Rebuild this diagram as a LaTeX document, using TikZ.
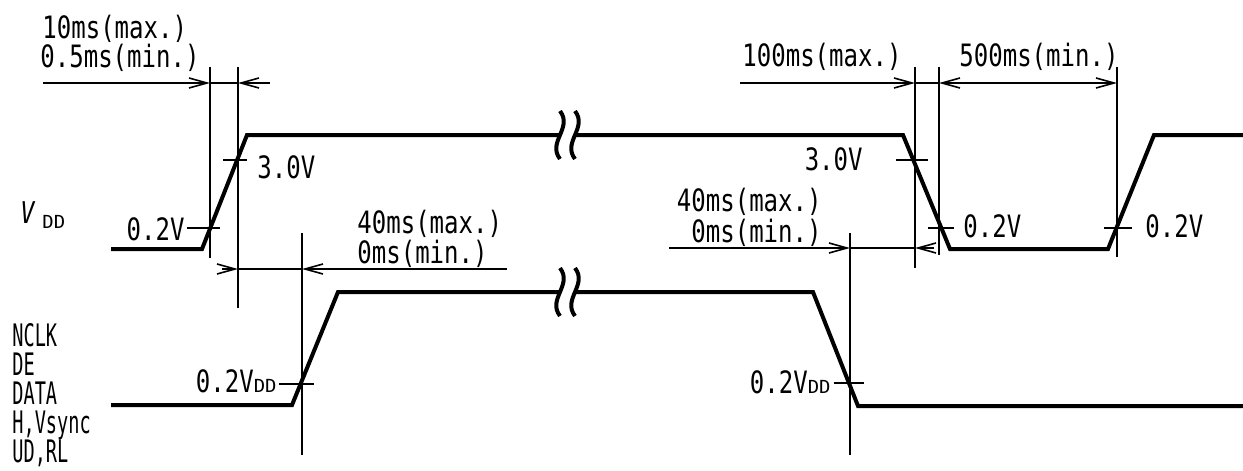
\documentclass[tikz,border=0pt]{standalone}
\usepackage{fontspec}
\usetikzlibrary{arrows.meta}
\newfontfamily\cadfont[FakeStretch=0.78]{DejaVu Sans Mono}
\newfontfamily\sigfont[FakeStretch=0.6]{DejaVu Sans Mono}
\newfontfamily\ddfont[FakeStretch=1.05]{DejaVu Sans Mono}
\tikzset{
  wave/.style={line width=2pt},
  dim/.style={line width=0.8pt},
  dimarrow/.style={dim,-{Straight Barb[length=9pt,width=5pt]}},
  dimboth/.style={dim,{Straight Barb[length=9pt,width=5pt]}-{Straight Barb[length=9pt,width=5pt]}},
  lbl/.style={inner sep=0pt,font=\cadfont\fontsize{15.4}{16}\selectfont},
  siglbl/.style={inner sep=0pt,anchor=base west,text height=11pt,text depth=0pt,
    font=\sigfont\fontsize{15.5}{14}\selectfont},
  brk/.pic={\draw[wave] (0,-24) .. controls (13,-7) and (-13,7) .. (0,24);}
}
\newcommand\dd{{\ddfont\fontsize{9}{9}\selectfont DD}}
\begin{document}
\begin{tikzpicture}[x=0.5pt,y=-0.5pt]
  \useasboundingbox (0,0) rectangle (1243,471);

  % V_DD waveform
  \coordinate (a1)  at (111,249);
  \coordinate (a2)  at (202,249);
  \coordinate (a3)  at (247,135);
  \coordinate (a4)  at (560,135);
  \coordinate (a5)  at (575,135);
  \coordinate (a6)  at (903,135);
  \coordinate (a7)  at (950,249);
  \coordinate (a8)  at (1108,249);
  \coordinate (a9)  at (1154,135);
  \coordinate (a10) at (1243,135);
  \draw[wave] (a1) -- (a2) -- (a3) -- (a4);
  \draw[wave] (a5) -- (a6) -- (a7) -- (a8) -- (a9) -- (a10);
  \pic at (a4) {brk};
  \pic at (a5) {brk};

  % NCLK ... waveform
  \coordinate (b1) at (111,405);
  \coordinate (b2) at (292,405);
  \coordinate (b3) at (338,292);
  \coordinate (b4) at (560,292);
  \coordinate (b5) at (575,292);
  \coordinate (b6) at (813,292);
  \coordinate (b7) at (858,406);
  \coordinate (b8) at (1243,406);
  \draw[wave] (b1) -- (b2) -- (b3) -- (b4);
  \draw[wave] (b5) -- (b6) -- (b7) -- (b8);
  \pic at (b4) {brk};
  \pic at (b5) {brk};

  % guide lines
  \foreach \n/\x/\ya/\yb in {1/210/67/258, 2/238/67/308, 3/302/233/455,
      4/850/233/455, 5/915/67/268, 6/939/67/255, 7/1117/67/257} {
    \coordinate (g\n t) at (\x,\ya);
    \coordinate (g\n b) at (\x,\yb);
    \draw[dim] (g\n t) -- (g\n b);
  }

  % level ticks
  \foreach \n/\xa/\xb/\y in {1/187/220/228, 2/223/247/160, 3/279/314/384,
      4/896/928/160, 5/928/954/228, 6/1104/1132/228, 7/834/864/383} {
    \coordinate (k\n l) at (\xa,\y);
    \coordinate (k\n r) at (\xb,\y);
    \draw[dim] (k\n l) -- (k\n r);
  }

  % dimension lines
  \coordinate (p1) at (43,83);
  \coordinate (p2) at (270,83);
  \draw[dimarrow] (p1) -- (g1t |- p1);
  \draw[dim] (g1t |- p1) -- (g2t |- p1);
  \draw[dimarrow] (p2) -- (g2t |- p2);

  \coordinate (p3) at (222,269);
  \coordinate (p4) at (507,269);
  \draw[dimarrow] (p3) -- (g2t |- p3);
  \draw[dim] (g2t |- p3) -- (g3t |- p3);
  \draw[dimarrow] (p4) -- (g3t |- p4);

  \coordinate (p5) at (740,83);
  \draw[dimarrow] (p5) -- (g5t |- p5);
  \draw[dim] (g5t |- p5) -- (g6t |- p5);
  \draw[dimboth] (g6t |- p5) -- (g7t |- p5);

  \coordinate (p6) at (669,248);
  \coordinate (p7) at (934,248);
  \draw[dimarrow] (p6) -- (g4t |- p6);
  \draw[dim] (g4t |- p6) -- (g5t |- p6);
  \draw[dimarrow] (p7) -- (g5t |- p7);

  % timing labels
  \node[lbl,anchor=base west] (t1) at (42,39)  {10ms(max.)};
  \node[lbl,anchor=base west] (t2) at (40,68)  {0.5ms(min.)};
  \node[lbl,anchor=base west] (t3) at (357,233) {40ms(max.)};
  \node[lbl,anchor=base west] (t4) at (357,263) {0ms(min.)};
  \node[lbl,anchor=base west] (t5) at (742,66)  {100ms(max.)};
  \node[lbl,anchor=base west] (t6) at (959,66)  {500ms(min.)};
  \node[lbl,anchor=base east] (t7) at (822,211) {40ms(max.)};
  \node[lbl,anchor=base east] (t8) at (822,242) {0ms(min.)};

  % level labels
  \node[lbl,anchor=base east] (v1) at (185,240)  {0.2V};
  \node[lbl,anchor=base west] (v2) at (257,178)  {3.0V};
  \node[lbl,anchor=base east] (v3) at (277,392)  {0.2V\dd};
  \node[lbl,anchor=base east] (v4) at (863,170)  {3.0V};
  \node[lbl,anchor=base west] (v5) at (963,237)  {0.2V};
  \node[lbl,anchor=base west] (v6) at (1145,237) {0.2V};
  \node[lbl,anchor=base east] (v7) at (831,393)  {0.2V\dd};

  % signal names
  \node[lbl,anchor=base west] (vdd) at (20,228)
    {\raisebox{2.5pt}{\fontsize{15}{15}\selectfont\itshape V}\hspace{4pt}\dd};
  \foreach \t/\y [count=\i] in {NCLK/346, DE/375, DATA/404, {H,Vsync}/433, {UD,RL}/462}
    \node[siglbl] (s\i) at (12,\y) {\t};

\end{tikzpicture}
\end{document}
